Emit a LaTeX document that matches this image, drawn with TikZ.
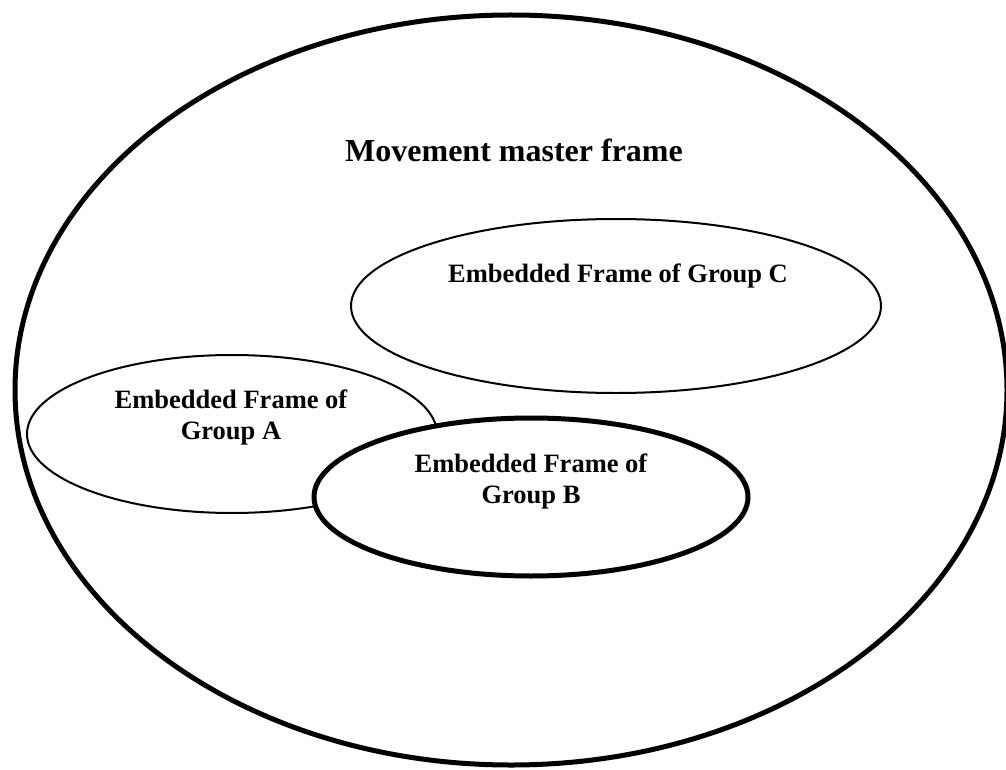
\documentclass[tikz,border=0pt]{standalone}
\usepackage{fontspec}
\setmainfont{Liberation Serif}
\usetikzlibrary{shapes.geometric}
\begin{document}
\begin{tikzpicture}[x=1pt,y=-1pt,
  frame/.style={draw=black, ellipse, inner sep=0pt},
  thinframe/.style={frame, line width=2pt},
  thickframe/.style={frame, line width=5pt},
  lbl/.style={font=\fontsize{26.5}{31}\selectfont\bfseries, align=center, inner sep=0pt, anchor=base},
  titlelbl/.style={font=\fontsize{32}{38}\selectfont\bfseries, inner sep=0pt, anchor=base}]
\useasboundingbox (0,0) rectangle (1006,770);
\fill[white] (0,0) rectangle (1006,770);
\node[thickframe, minimum width=992pt, minimum height=750pt] (master) at (511,390) {};
\node[thinframe, minimum width=530pt, minimum height=174pt] (C) at (616,306) {};
\node[thinframe, minimum width=410pt, minimum height=158pt] (A) at (232,434) {};
\node[thickframe, fill=white, minimum width=434pt, minimum height=158pt] (B) at (531,497) {};
\node[titlelbl] (tmaster) at (514,162) {Movement master frame};
\node[lbl] (tC) at (618,282) {Embedded Frame of Group C};
\node[lbl] (tA) at (231,439) {Embedded Frame of\\Group A};
\node[lbl] (tB) at (531,503) {Embedded Frame of\\Group B};
\end{tikzpicture}
\end{document}
